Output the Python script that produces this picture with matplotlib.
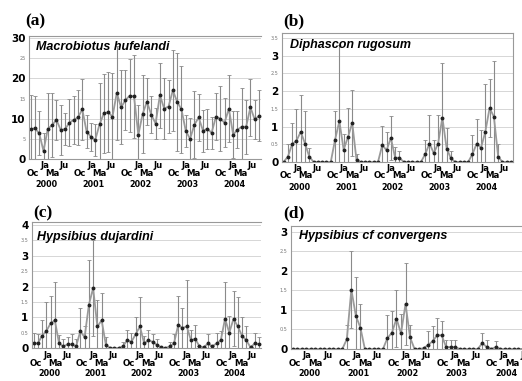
import numpy as np
import matplotlib
matplotlib.use('Agg')
import matplotlib.pyplot as plt
from matplotlib.transforms import offset_copy

W, H = 522, 381

# sampling index (roughly every 1.1 months, starting autumn 1999)
n_samples = 54
step_months = 1.1

# month tick labels, offset in months from first sample
month_names = ['Oc', 'Ja', 'Ma', 'Ju']
month_offsets = [0.6, 3.6, 5.6, 8.6]
years = ['2000', '2001', '2002', '2003', '2004']
year_offset = 4.0

# (a) Macrobiotus hufelandi
hufelandi_mean = [7.4, 7.6, 6.4, 2.0, 7.5, 8.4, 9.7, 7.2, 7.4, 9.0,
                  9.7, 10.3, 12.3, 6.8, 5.5, 4.7, 8.6, 11.3, 11.6, 10.5,
                  16.4, 12.8, 14.6, 15.7, 15.5, 6.0, 11.2, 14.2, 11.0, 8.8,
                  15.8, 12.5, 13.0, 17.0, 14.2, 12.3, 7.0, 5.0, 8.5, 10.3,
                  7.0, 7.5, 6.5, 10.5, 10.0, 9.0, 12.5, 6.0, 7.3, 8.0,
                  8.0, 12.8, 9.8, 10.7]
hufelandi_sd = [8.5, 7.9, 5.5, 4.5, 8.8, 8.0, 4.9, 6.2, 3.9, 5.8,
                6.0, 6.8, 7.5, 4.1, 3.5, 3.9, 10.3, 9.9, 9.9, 10.9,
                11.6, 9.2, 7.4, 9.0, 10.3, 7.4, 9.6, 5.8, 4.5, 3.8,
                8.0, 7.5, 6.5, 10.1, 12.2, 10.8, 4.0, 5.2, 8.3, 5.9,
                5.2, 4.9, 3.9, 5.9, 8.0, 6.1, 8.4, 5.8, 4.5, 9.6,
                6.7, 7.0, 4.9, 6.3]

# (b) Diphascon rugosum
rugosum_mean = [0, 0.15, 0.5, 0.6, 0.85, 0.52, 0.15, 0, 0, 0,
                0, 0, 0.63, 1.15, 0.35, 0.7, 1.1, 0.05, 0, 0,
                0, 0, 0, 0.48, 0.33, 0.68, 0.12, 0.12, 0, 0,
                0, 0, 0, 0.22, 0.52, 0.25, 0.52, 1.25, 0.38, 0.1,
                0, 0, 0, 0, 0.22, 0.52, 0.4, 0.85, 1.52, 1.28,
                0.15, 0, 0, 0]
rugosum_sd = [0, 0.35, 0.6, 0.9, 1.05, 0.93, 0.25, 0, 0, 0,
              0, 0, 0.82, 2.15, 0.45, 0.82, 0.93, 0.17, 0, 0,
              0, 0, 0, 0.54, 0.52, 0.63, 0.3, 0.18, 0, 0,
              0, 0, 0, 0.4, 0.8, 0.37, 0.8, 1.55, 0.57, 0.2,
              0, 0, 0, 0, 0.53, 0.68, 0.5, 1.35, 0.81, 1.57,
              0.35, 0, 0, 0]

# (c) Hypsibius dujardini
dujardini_mean = [0.15, 0.15, 0.4, 0.55, 0.8, 0.9, 0.15, 0.05, 0.12, 0.12,
                  0.05, 0.55, 0.35, 1.4, 1.95, 0.7, 0.9, 0.1, 0, 0,
                  0, 0.05, 0.25, 0.2, 0.45, 0.7, 0.15, 0.25, 0.2, 0.1,
                  0.02, 0, 0.05, 0.15, 0.75, 0.65, 0.7, 0.25, 0.3, 0.05,
                  0.02, 0.15, 0.05, 0.15, 0.25, 0.95, 0.5, 0.95, 0.7, 0.4,
                  0.25, 0.02, 0.15, 0.12]
dujardini_sd = [0.35, 0.3, 0.5, 0.95, 0.9, 1.25, 0.27, 0.25, 0.23, 0.33,
                0.25, 0.75, 0.35, 1.45, 1.55, 0.85, 0.9, 0.25, 0, 0,
                0, 0.15, 0.35, 0.3, 0.55, 0.95, 0.25, 0.35, 0.25, 0.2,
                0, 0, 0.15, 0.3, 0.95, 0.65, 1.5, 0.35, 0.45, 0,
                0, 0.3, 0, 0.35, 0.3, 1.2, 0.55, 0.9, 0.95, 0.6,
                0.45, 0, 0.35, 0.23]

# (d) Hypsibius cf convergens
convergens_mean = [0, 0, 0, 0, 0, 0, 0, 0, 0, 0,
                   0, 0, 0.25, 1.52, 0.85, 0.55, 0, 0, 0, 0,
                   0, 0.28, 0.42, 0.78, 0.4, 1.15, 0.3, 0, 0, 0.02,
                   0.1, 0.2, 0.35, 0.35, 0.05, 0.05, 0.05, 0, 0, 0,
                   0, 0, 0.15, 0.05, 0, 0.05, 0, 0, 0, 0,
                   0, 0, 0, 0]
convergens_sd = [0, 0, 0, 0, 0, 0, 0, 0, 0, 0,
                 0, 0, 0.37, 0.98, 1.0, 0.6, 0, 0, 0, 0,
                 0, 0.6, 0.56, 0.72, 0.5, 1.05, 0.32, 0, 0, 0,
                 0.35, 0.38, 0.45, 0.37, 0.17, 0.17, 0.17, 0, 0, 0,
                 0, 0, 0.25, 0.17, 0, 0.15, 0, 0, 0, 0,
                 0, 0, 0, 0]

t = np.arange(n_samples) * step_months

fig = plt.figure(figsize=(W / 100, H / 100), dpi=100)


def add_ax(l, r, top, bot):
    return fig.add_axes([l / W, 1 - bot / H, (r - l) / W, (bot - top) / H])


def panel(ax, mean, sd, ymax, ystep, fmt, cut_right, rows):
    ax.yaxis.grid(True, color='#d0d0d0', lw=0.6)
    ax.set_axisbelow(True)
    ax.errorbar(t, mean, yerr=sd, fmt='none', ecolor='#8a8a8a',
                elinewidth=0.8, capsize=1.2, capthick=0.6)
    ax.plot(t, mean, color='#9a9a9a', lw=1.3)
    ax.plot(t, mean, 'o', ms=1.8, color='#222222')
    ax.set_xlim(-0.4, 58.8)
    ax.set_ylim(0, ymax)

    yt = np.arange(0, ymax + 1e-6, ystep)
    ax.set_yticks(yt)
    ax.set_yticklabels([fmt(v) for v in yt])
    for i, lb in enumerate(ax.get_yticklabels()):
        if i % 2 == 0:
            lb.set_fontsize(7.5)
            lb.set_fontweight('bold')
        else:
            lb.set_fontsize(3.5)
            lb.set_color('#777777')
    ax.tick_params(axis='y', length=0, pad=2.5)
    ax.set_xticks([])

    # month and year labels in three staggered rows below the axis
    up, low, yr = rows
    base = ax.get_xaxis_transform()
    tr_up = offset_copy(base, fig=fig, y=-up, units='dots')
    tr_low = offset_copy(base, fig=fig, y=-low, units='dots')
    tr_yr = offset_copy(base, fig=fig, y=-yr, units='dots')
    for k in range(len(years)):
        for name, off in zip(month_names, month_offsets):
            x = 12 * k + off
            tr = tr_up if name in ('Ja', 'Ju') else tr_low
            ax.text(x, 0, name, transform=tr, ha='center', va='center',
                    fontsize=6.2, fontweight='bold', clip_on=False)
        ax.text(12 * k + year_offset, 0, years[k], transform=tr_yr,
                ha='center', va='center', fontsize=5.8, fontweight='bold',
                clip_on=False)

    for s in ax.spines.values():
        s.set_color('#999999')
        s.set_linewidth(0.8)
    if cut_right:
        ax.spines['right'].set_visible(False)


ax_a = add_ax(29, 261, 36, 159)
panel(ax_a, hufelandi_mean, hufelandi_sd, 30.5, 5, lambda v: '%d' % v, True, (7, 15, 26))
ax_b = add_ax(282, 513, 33, 162)
panel(ax_b, rugosum_mean, rugosum_sd, 3.64, 0.5, lambda v: '%g' % v, False, (6.5, 14, 25))
ax_c = add_ax(32, 261, 222, 348)
panel(ax_c, dujardini_mean, dujardini_sd, 4.1, 0.5, lambda v: '%g' % v, True, (7.5, 15, 26))
ax_d = add_ax(291, 534, 226, 349)
panel(ax_d, convergens_mean, convergens_sd, 3.15, 0.5, lambda v: '%g' % v, False, (7, 14.5, 25))


def ftext(x, y, s, **kw):
    fig.text(x / W, 1 - y / H, s, va='center', ha='left', **kw)


serif = dict(family='Liberation Serif', fontweight='bold', fontsize=12.5)
ftext(25, 21, '(a)', **serif)
ftext(283, 21, '(b)', **serif)
ftext(33, 213, '(c)', **serif)
ftext(283, 213, '(d)', **serif)

sp = dict(family='Liberation Sans', fontweight='bold', style='italic', fontsize=9)
ftext(36, 47, 'Macrobiotus hufelandi', **sp)
ftext(290, 45, 'Diphascon rugosum', **sp)
ftext(37, 237, 'Hypsibius dujardini', **sp)
ftext(299, 236, 'Hypsibius cf convergens', **sp)

fig.savefig('out.png', dpi=100)
